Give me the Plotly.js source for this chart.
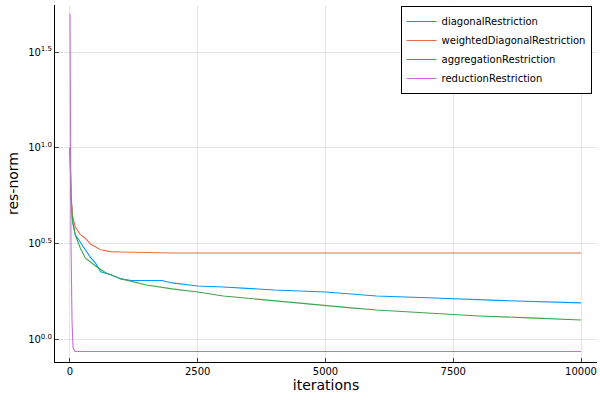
<!DOCTYPE html>
<html>
<head>
<script src="https://cdn.plot.ly/plotly-3.0.1.min.js"></script>
<style>body{margin:0}</style>
</head>
<body>
<div id="plot" style="width:600px;height:400px"></div>
<script>
// log10(res-norm)
let diagX = [1, 20, 50, 100, 200, 400, 500, 600, 800, 1000, 1200, 1800, 2000, 2500, 3000, 4000, 5000, 6000, 7000, 7500, 8500, 10000];
let diagY = [1.0, 0.75, 0.62, 0.55, 0.51, 0.43, 0.40, 0.355, 0.34, 0.318, 0.31, 0.31, 0.297, 0.281, 0.276, 0.26, 0.25, 0.229, 0.22, 0.214, 0.205, 0.193];
let weightX = [1, 20, 50, 100, 200, 300, 400, 600, 800, 1000, 2000, 5000, 10000];
let weightY = [1.0, 0.76, 0.65, 0.59, 0.55, 0.53, 0.50, 0.47, 0.46, 0.458, 0.453, 0.453, 0.453];
let aggrX = [1, 20, 50, 100, 200, 300, 500, 700, 1000, 1500, 2000, 2500, 3000, 4000, 5000, 5500, 6000, 7000, 8000, 9000, 10000];
let aggrY = [1.0, 0.74, 0.62, 0.55, 0.48, 0.427, 0.385, 0.35, 0.318, 0.286, 0.266, 0.25, 0.229, 0.203, 0.177, 0.167, 0.156, 0.14, 0.125, 0.115, 0.104];
let redX = [1, 10, 20, 40, 60, 100, 1000, 10000];
let redY = [1.7, 1.1, 0.5, 0.1, -0.04, -0.06, -0.06, -0.06];
let xTicks = [0, 2500, 5000, 7500, 10000];
let xTickText = ['0', '2500', '5000', '7500', '10000'];

function toVal(arr) { return arr.map(v => Math.pow(10, v)); }

let traces = [
    {x: diagX, y: toVal(diagY), name: 'diagonalRestriction', mode: 'lines', line: {color: 'rgb(0,154,250)', width: 1.1}},
    {x: weightX, y: toVal(weightY), name: 'weightedDiagonalRestriction', mode: 'lines', line: {color: 'rgb(227,111,71)', width: 1.1}},
    {x: aggrX, y: toVal(aggrY), name: 'aggregationRestriction', mode: 'lines', line: {color: 'rgb(62,164,78)', width: 1.1}},
    {x: redX, y: toVal(redY), name: 'reductionRestriction', mode: 'lines', line: {color: 'rgb(195,113,210)', width: 1.1}}
];

let layout = {
    width: 600, height: 400,
    margin: {l: 55, r: 3, t: 5, b: 38},
    paper_bgcolor: 'white', plot_bgcolor: 'white',
    font: {family: 'DejaVu Sans', size: 10, color: 'black'},
    xaxis: {
        title: {text: 'iterations', font: {size: 14}, standoff: 4},
        range: [-293, 10313], tickvals: xTicks, ticktext: xTickText,
        showgrid: true, gridcolor: 'rgba(0,0,0,0.1)', zeroline: false,
        showline: true, linecolor: 'black', ticks: 'inside', ticklen: 4
    },
    yaxis: {
        title: {text: 'res-norm', font: {size: 14}, standoff: 6},
        type: 'log', range: [-0.115, 1.745],
        tickvals: [1, Math.pow(10, 0.5), 10, Math.pow(10, 1.5)],
        ticktext: ['10<sup>0.0</sup>', '10<sup>0.5</sup>', '10<sup>1.0</sup>', '10<sup>1.5</sup>'],
        showgrid: true, gridcolor: 'rgba(0,0,0,0.1)', zeroline: false,
        showline: true, linecolor: 'black', ticks: 'inside', ticklen: 4
    },
    legend: {x: 0.99, y: 0.997, xanchor: 'right', yanchor: 'top', bordercolor: 'black', borderwidth: 1,
             font: {size: 10}, tracegroupgap: 0, itemwidth: 30},
    showlegend: true
};

Plotly.newPlot('plot', traces, layout, {displayModeBar: false});
</script>
</body>
</html>
